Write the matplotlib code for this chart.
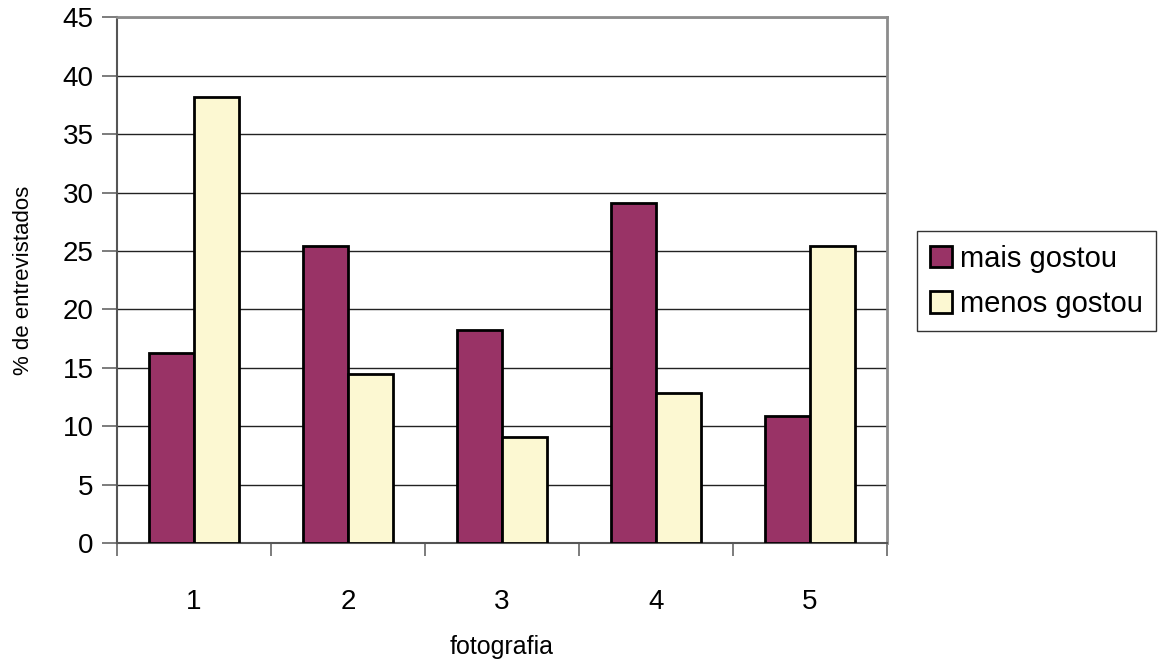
import numpy as np
import matplotlib.pyplot as plt

categorias = ["1", "2", "3", "4", "5"]
mais_gostou = [16.3, 25.4, 18.2, 29.1, 10.9]
menos_gostou = [38.2, 14.5, 9.1, 12.8, 25.4]
y_ticks = list(range(0, 50, 5))

plt.rcParams["font.family"] = ["Liberation Sans", "DejaVu Sans"]

fig = plt.figure(figsize=(11.75, 6.65), dpi=100)
ax = fig.add_axes([0.0996, 0.1835, 0.6553, 0.7905])

x = np.arange(1, len(categorias) + 1)
w = 0.29
ax.bar(x - w / 2, mais_gostou, w, color="#993366", edgecolor="black", linewidth=2,
       label="mais gostou", zorder=3)
ax.bar(x + w / 2, menos_gostou, w, color="#FCF8D2", edgecolor="black", linewidth=2,
       label="menos gostou", zorder=3)

ax.set_xlim(0.5, 5.5)
ax.set_ylim(0, 45)
ax.set_yticks(y_ticks)
ax.set_yticklabels([str(t) for t in y_ticks], fontsize=20)
ax.yaxis.grid(True, color="#222222", linewidth=1)
ax.set_axisbelow(True)

# category labels centred, ticks between groups
ax.set_xticks(np.arange(0.5, 6, 1))
ax.set_xticklabels([])
ax.set_xticks(x, minor=True)
ax.set_xticklabels(categorias, minor=True, fontsize=20)
ax.tick_params(axis="x", which="minor", length=0, pad=33)
ax.tick_params(axis="x", which="major", length=9, color="#666666", width=1.2)
ax.tick_params(axis="y", length=11, color="#666666", width=1.2, pad=6)

for s in ["top", "right"]:
    ax.spines[s].set_color("#8c8c8c")
    ax.spines[s].set_linewidth(2)
for s in ["left", "bottom"]:
    ax.spines[s].set_color("#555555")
    ax.spines[s].set_linewidth(1.5)

ax.set_xlabel("fotografia", fontsize=18)
ax.xaxis.label.set_va("center")
ax.xaxis.set_label_coords(0.5, -0.198)
ax.set_ylabel("% de entrevistados", fontsize=16)
ax.yaxis.set_label_coords(-0.108, 0.5)

leg = fig.legend(loc="center left", bbox_to_anchor=(0.780, 0.577), fontsize=21,
                 frameon=True, fancybox=False, edgecolor="black", handlelength=0.75,
                 handleheight=0.75, handletextpad=0.3, borderpad=0.45,
                 borderaxespad=0, labelspacing=0.6)
leg.get_frame().set_linewidth(1)

fig.savefig("out.png", dpi=100)
